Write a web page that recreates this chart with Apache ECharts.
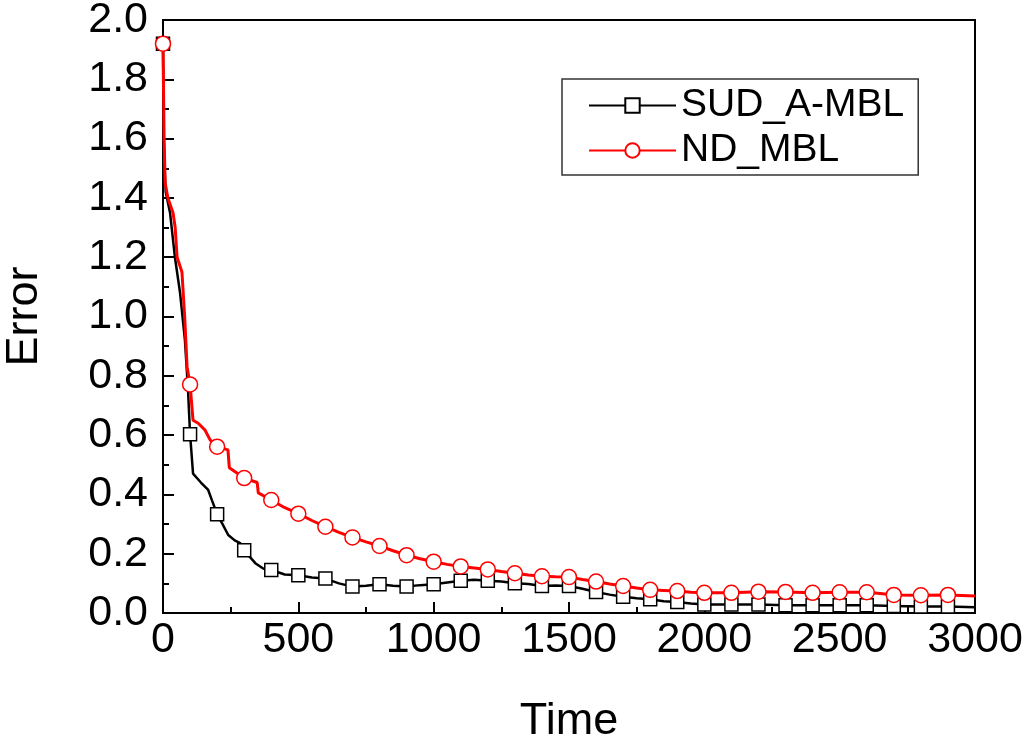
<!DOCTYPE html>
<html>
<head>
<meta charset="utf-8">
<script src="https://cdn.jsdelivr.net/npm/echarts@6/dist/echarts.min.js"></script>
<style>
  html, body { margin: 0; padding: 0; background: #fff; }
  #chart { width: 1024px; height: 737px; }
</style>
</head>
<body>
<div id="chart"></div>
<script>
// SUD_A-MBL (black, squares)
const sudTime = [0, 3, 6, 10, 26, 44, 63, 81, 92, 100, 111, 140, 167, 181, 200, 220, 241, 265, 285, 300, 320, 341, 370, 400, 450,
  500, 550, 600, 650, 700, 750, 800, 850, 900, 950, 1000, 1050, 1100, 1150, 1200, 1250, 1300, 1350, 1400, 1450, 1500,
  1550, 1600, 1650, 1700, 1750, 1800, 1850, 1900, 1950, 2000, 2100, 2200, 2300, 2400, 2500, 2600, 2700, 2800, 2900, 3000];
const sudError = [1.92, 1.6, 1.5, 1.42, 1.35, 1.2, 1.08, 0.92, 0.76, 0.603, 0.47, 0.44, 0.415, 0.38, 0.333, 0.3, 0.263, 0.245, 0.236, 0.212, 0.19, 0.168, 0.15, 0.145, 0.13,
  0.127, 0.12, 0.116, 0.1, 0.089, 0.092, 0.097, 0.092, 0.089, 0.094, 0.097, 0.103, 0.109, 0.112, 0.109, 0.106, 0.1, 0.098, 0.091, 0.093, 0.091,
  0.082, 0.071, 0.062, 0.055, 0.05, 0.046, 0.04, 0.037, 0.032, 0.029, 0.029, 0.029, 0.026, 0.026, 0.026, 0.026, 0.024, 0.022, 0.022, 0.019];

// ND_MBL (red, circles)
const ndTime = [0, 4, 8, 18, 37, 45, 52, 70, 80, 89, 100, 111, 130, 155, 174, 200, 240, 245, 300, 348, 352, 400, 450,
  500, 550, 600, 650, 700, 750, 800, 850, 900, 950, 1000, 1050, 1100, 1150, 1200, 1250, 1300, 1350, 1400, 1450, 1500,
  1550, 1600, 1650, 1700, 1750, 1800, 1850, 1900, 1950, 2000, 2100, 2200, 2300, 2400, 2500, 2600, 2650, 2700, 2800, 2900, 3000];
const ndError = [1.92, 1.6, 1.45, 1.4, 1.35, 1.3, 1.2, 1.15, 1.0, 0.83, 0.771, 0.65, 0.64, 0.617, 0.584, 0.561, 0.55, 0.49, 0.455, 0.44, 0.405, 0.381, 0.355,
  0.335, 0.312, 0.291, 0.272, 0.255, 0.24, 0.226, 0.21, 0.195, 0.183, 0.173, 0.164, 0.157, 0.152, 0.147, 0.14, 0.134, 0.128, 0.124, 0.122, 0.121,
  0.113, 0.106, 0.098, 0.091, 0.084, 0.078, 0.076, 0.074, 0.07, 0.068, 0.068, 0.072, 0.071, 0.068, 0.07, 0.07, 0.066, 0.061, 0.06, 0.061, 0.057];

const markerStep = 100;
const font = '"Liberation Sans", Arial, sans-serif';

// markers only every 100 time units, plain line elsewhere
function toPoints(ts, es) {
  return ts.map((t, i) => {
    const p = { value: [t, es[i]] };
    if (t % markerStep !== 0 || t === 3000) p.symbol = 'none';
    return p;
  });
}

const chart = echarts.init(document.getElementById('chart'));
chart.setOption({
  animation: false,
  backgroundColor: '#fff',
  grid: {
    left: 163, right: 49, top: 20, bottom: 124,
    outerBoundsMode: 'none',
    containLabel: false,
    show: true, borderColor: '#000', borderWidth: 2
  },
  legend: {
    orient: 'vertical',
    left: 562, top: 79,
    padding: [7, 14, 5, 26],
    itemWidth: 87, itemHeight: 18, itemGap: 6,
    backgroundColor: '#fff',
    borderColor: '#333', borderWidth: 1.5,
    textStyle: { fontFamily: font, fontSize: 39, color: '#000' },
    data: ['SUD_A-MBL', 'ND_MBL']
  },
  xAxis: {
    type: 'value', min: 0, max: 3000, interval: 500,
    name: 'Time', nameLocation: 'middle', nameGap: 86,
    nameTextStyle: { fontFamily: font, fontSize: 45, color: '#000' },
    axisLine: { lineStyle: { color: '#000', width: 2 } },
    axisTick: { inside: true, length: 11, lineStyle: { width: 2 } },
    minorTick: { show: true, splitNumber: 2, length: 6, lineStyle: { color: '#000', width: 2 } },
    axisLabel: { fontFamily: font, fontSize: 43, color: '#000', margin: 6, formatter: v => String(v) },
    splitLine: { show: false }
  },
  yAxis: {
    type: 'value', min: 0, max: 2, interval: 0.2,
    name: 'Error', nameLocation: 'middle', nameGap: 116,
    nameTextStyle: { fontFamily: font, fontSize: 45, color: '#000' },
    axisLine: { lineStyle: { color: '#000', width: 2 } },
    axisTick: { inside: true, length: 11, lineStyle: { width: 2 } },
    minorTick: { show: true, splitNumber: 2, length: 6, lineStyle: { color: '#000', width: 2 } },
    axisLabel: { fontFamily: font, fontSize: 43, color: '#000', margin: 15, formatter: v => v.toFixed(1) },
    splitLine: { show: false }
  },
  series: [
    {
      name: 'SUD_A-MBL',
      type: 'line',
      symbol: 'rect',
      symbolSize: 13,
      showSymbol: true,
      clip: true,
      lineStyle: { color: '#000', width: 2.5 },
      itemStyle: { color: '#fff', borderColor: '#000', borderWidth: 1.5 },
      emphasis: { disabled: true },
      data: toPoints(sudTime, sudError)
    },
    {
      name: 'ND_MBL',
      type: 'line',
      symbol: 'circle',
      symbolSize: 15,
      showSymbol: true,
      clip: true,
      lineStyle: { color: '#ff0000', width: 3 },
      itemStyle: { color: '#fff', borderColor: '#ff0000', borderWidth: 1.5 },
      emphasis: { disabled: true },
      data: toPoints(ndTime, ndError)
    }
  ]
});
</script>
</body>
</html>
